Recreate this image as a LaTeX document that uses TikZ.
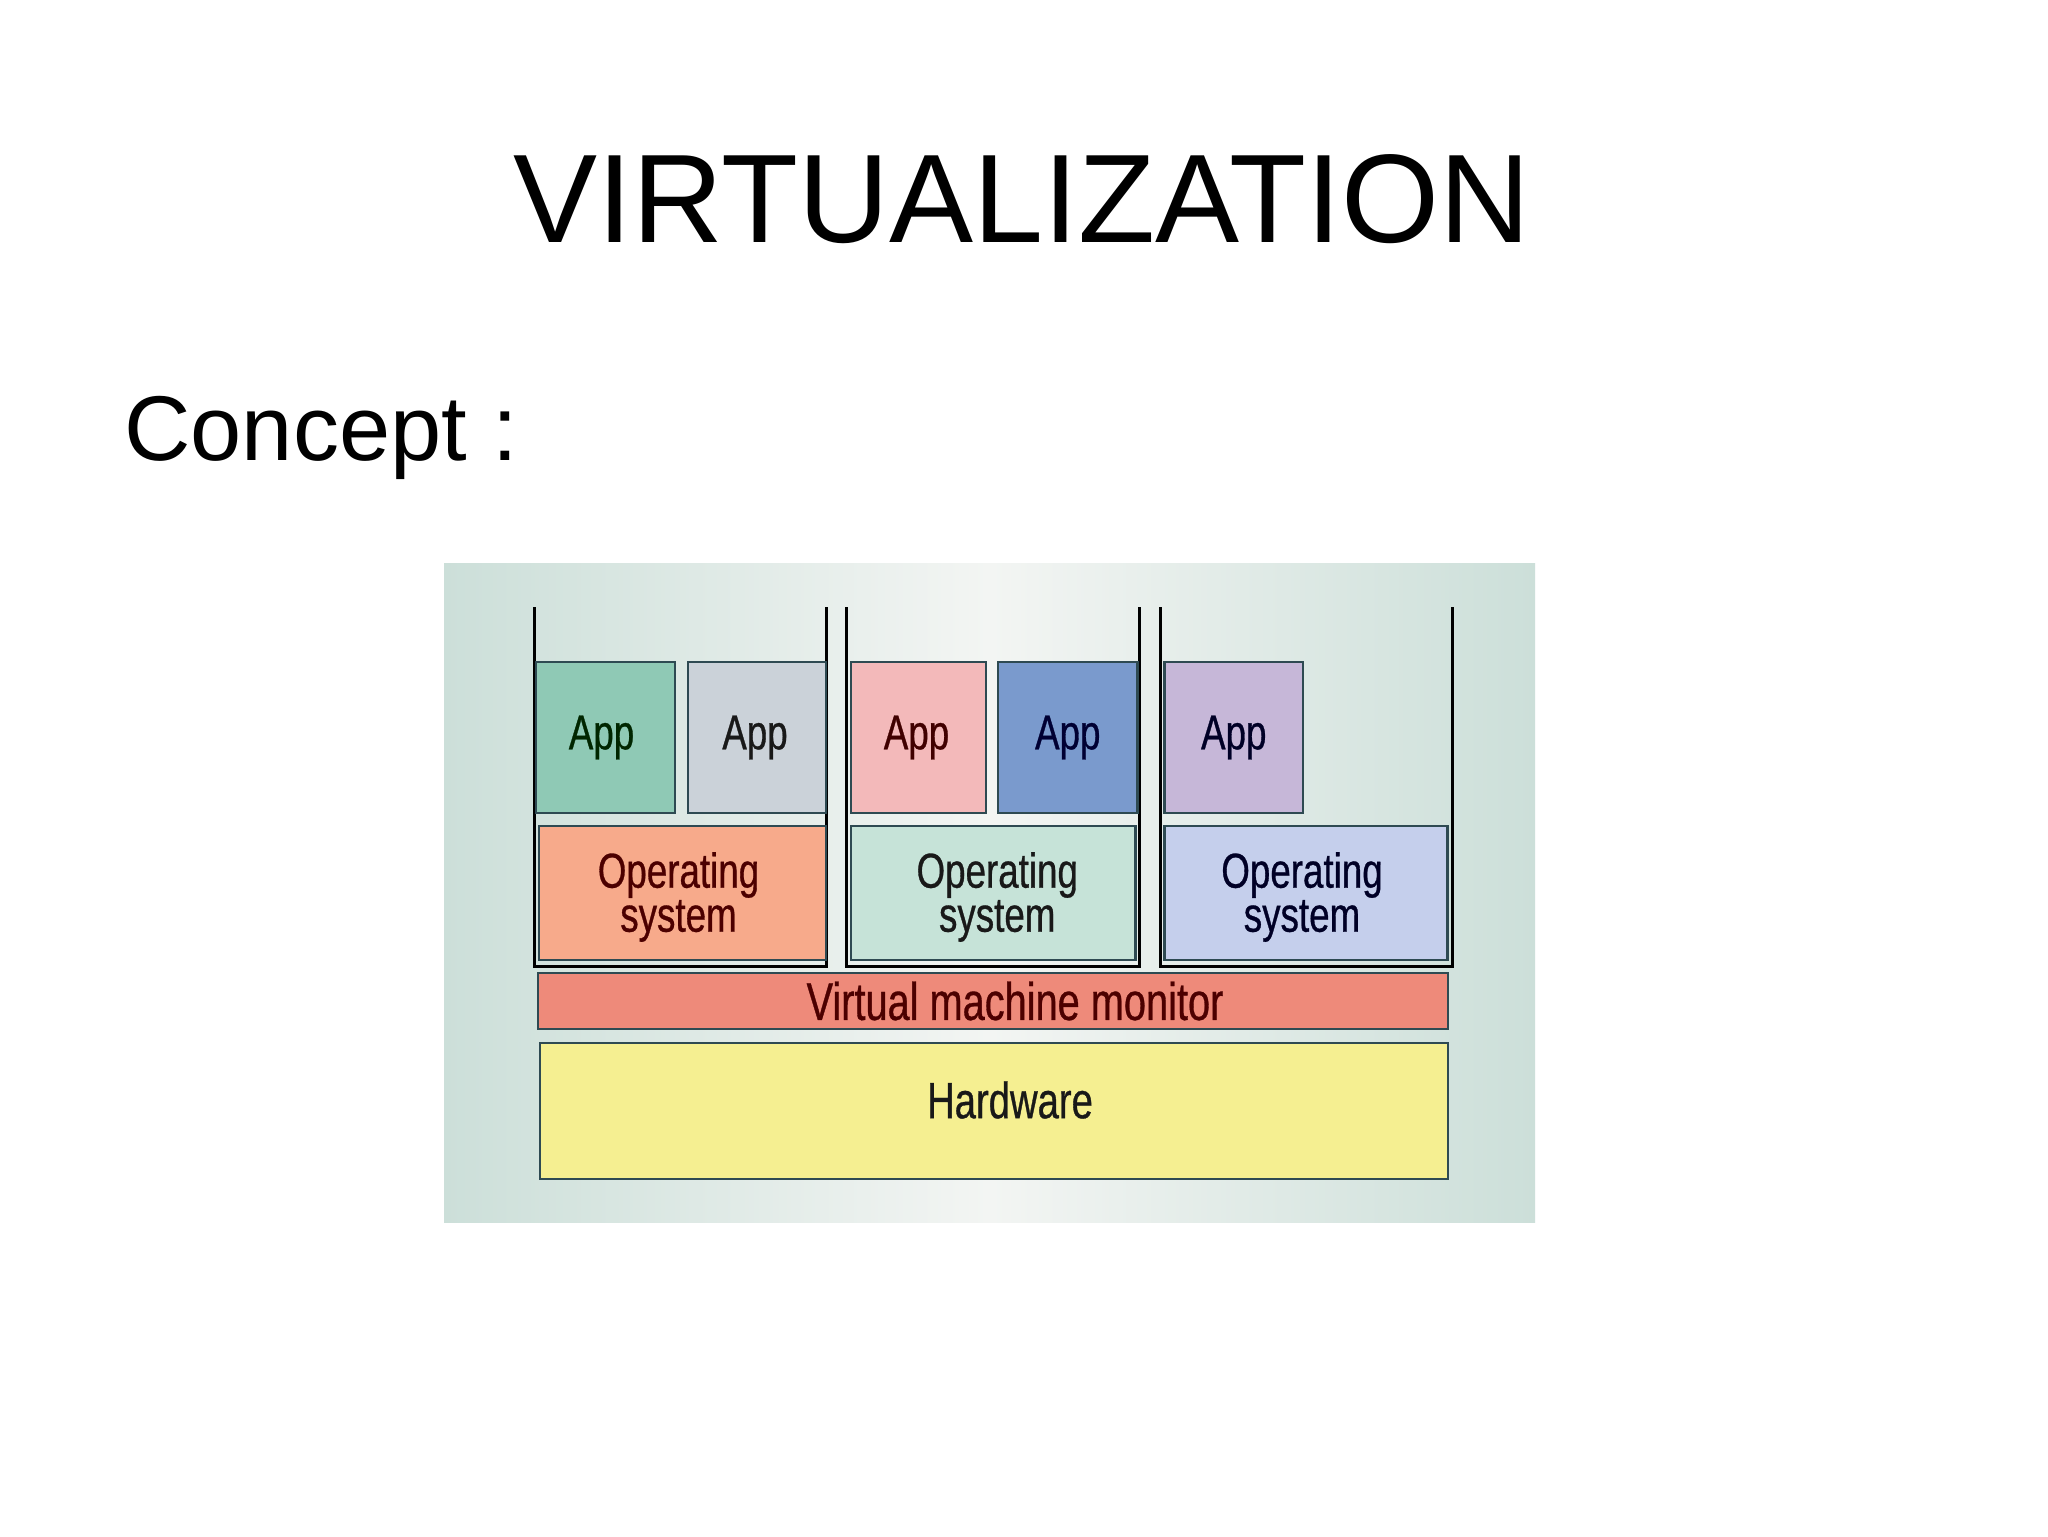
\documentclass[tikz,border=0pt]{standalone}
\usepackage{fontspec}
\setmainfont{Liberation Sans}
\newfontfamily\narrowfont[FakeStretch=0.75,FakeBold=0.6]{Liberation Sans}
\usetikzlibrary{fit}
\definecolor{boxline}{HTML}{2E4A52}
\definecolor{panelside}{HTML}{CCDFD9}
\definecolor{panelmid}{HTML}{F3F5F3}
\definecolor{appA}{HTML}{8FC9B5}
\definecolor{appB}{HTML}{CBD2D9}
\definecolor{appC}{HTML}{F3B9BA}
\definecolor{appD}{HTML}{7A9ACD}
\definecolor{appE}{HTML}{C6B7D8}
\definecolor{osA}{HTML}{F7AA8B}
\definecolor{osB}{HTML}{C6E3D8}
\definecolor{osC}{HTML}{C5CFEC}
\definecolor{vmmcol}{HTML}{EE8A7A}
\definecolor{hwcol}{HTML}{F5EF91}
\begin{document}
\begin{tikzpicture}[x=0.5pt,y=-0.5pt,
  box/.style={draw=boxline, line width=1.2pt, inner sep=0pt},
  lbl/.style={inner sep=0pt, align=center,
    font=\narrowfont\fontsize{24.5}{22}\selectfont},
  container/.style={draw=black, line width=1.5pt},
  titletext/.style={font=\fontsize{63}{70}\selectfont, inner sep=0pt},
  concepttext/.style={font=\fontsize{46}{52}\selectfont, inner sep=0pt}]
\useasboundingbox (0,0) rectangle (2048,1536);
\fill[white] (0,0) rectangle (2048,1536);

% title and subtitle
\node[titletext, anchor=base] (title) at (1022,242) {VIRTUALIZATION};
\node[concepttext, anchor=base west] (concept) at (124,460) {Concept :};

% panel background
\shade[left color=panelside, right color=panelside, middle color=panelmid]
  (444,563) rectangle (1535,1222);

% containers
\draw[container] (534.6,607) -- (534.6,966) -- (826.8,966) -- (826.8,607);
\draw[container] (846.4,607) -- (846.4,966) -- (1139,966) -- (1139,607);
\draw[container] (1160,607) -- (1160,966) -- (1452,966) -- (1452,607);

% apps
\node[box, fill=appA, fit={(536,662) (675,813)}] (app1) {};
\node[box, fill=appB, fit={(688,662) (826,813)}] (app2) {};
\node[box, fill=appC, fit={(851,662) (986,813)}] (app3) {};
\node[box, fill=appD, fit={(998,662) (1137.5,813)}] (app4) {};
\node[box, fill=appE, fit={(1164.5,662) (1303,813)}] (app5) {};
\node[lbl, text=black!85!green] (app1t) at ([xshift=-2pt]app1.center) {App};
\node[lbl, text=black!90] (app2t) at ([xshift=-1pt]app2.center) {App};
\node[lbl, text=black!75!red] (app3t) at ([xshift=-1pt]app3.center) {App};
\node[lbl, text=black!80!blue] (app4t) at (app4.center) {App};
\node[lbl, text=black!85!blue] (app5t) at (app5.center) {App};

% operating systems
\node[box, fill=osA, fit={(539,826) (826,960)}] (os1) {};
\node[box, fill=osB, fit={(851,826) (1135.5,960)}] (os2) {};
\node[box, fill=osC, fit={(1164.5,826) (1447.5,960)}] (os3) {};
\node[lbl, text=black!70!red] (os1t) at ([xshift=-2pt,yshift=-2pt]os1.center) {Operating\\system};
\node[lbl, text=black!90] (os2t) at ([xshift=2pt,yshift=-2pt]os2.center) {Operating\\system};
\node[lbl, text=black!85!blue] (os3t) at ([xshift=-2pt,yshift=-2pt]os3.center) {Operating\\system};

% vmm and hardware
\node[box, fill=vmmcol, fit={(538,973) (1448,1029)}] (vmm) {};
\node[lbl, font=\narrowfont\fontsize{26.5}{22}\selectfont, text=black!70!red]
  (vmmt) at ([xshift=11pt]vmm.center) {Virtual machine monitor};
\node[box, fill=hwcol, fit={(540,1043) (1448,1179)}] (hw) {};
\node[lbl, font=\narrowfont\fontsize{25.5}{22}\selectfont, text=black!90]
  (hwt) at ([xshift=8pt,yshift=5.5pt]hw.center) {Hardware};
\end{tikzpicture}
\end{document}
